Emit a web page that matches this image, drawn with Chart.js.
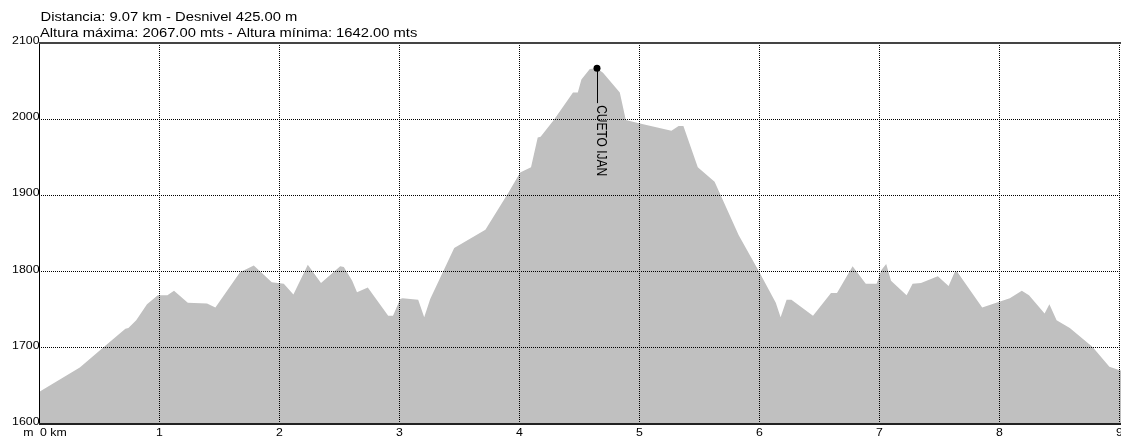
<!DOCTYPE html>
<html>
<head>
<meta charset="utf-8">
<script src="https://cdn.jsdelivr.net/npm/chart.js@4/dist/chart.umd.min.js"></script>
<style>
  html, body { margin: 0; padding: 0; background: #fff; overflow: hidden; width: 1121px; height: 437px; }
  canvas { display: block; }
</style>
</head>
<body>
<canvas id="c" width="1140" height="437"></canvas>
<script>
// ---- data ----
const distancesKm = [
  0.00, 0.34, 0.54, 0.72, 0.745, 0.81, 0.90, 0.99, 1.07, 1.125,
  1.24, 1.40, 1.47, 1.675, 1.79, 1.94, 1.99, 2.04, 2.12, 2.24,
  2.35, 2.51, 2.54, 2.61, 2.65, 2.74, 2.91, 2.95, 3.01, 3.03,
  3.16, 3.21, 3.26, 3.46, 3.72, 3.91, 4.01, 4.10, 4.156, 4.18,
  4.29, 4.45, 4.49, 4.52, 4.59, 4.65, 4.70, 4.84, 4.89, 4.99,
  5.27, 5.33, 5.37, 5.49, 5.63, 5.83, 6.00, 6.14, 6.18, 6.23,
  6.27, 6.45, 6.60, 6.65, 6.78, 6.89, 6.98, 7.02, 7.06, 7.10,
  7.23, 7.28, 7.35, 7.49, 7.58, 7.63, 7.65, 7.86, 8.09, 8.19,
  8.25, 8.38, 8.42, 8.48, 8.59, 8.78, 8.92, 9.00, 9.07
];
const elevationsM = [
  1642, 1674, 1701, 1725, 1726, 1736, 1757, 1769, 1769, 1775,
  1759, 1758, 1753, 1799, 1808, 1786, 1785, 1784, 1770, 1809,
  1785, 1807, 1806, 1788, 1773, 1779, 1742, 1742, 1764, 1765,
  1763, 1740, 1764, 1831, 1855, 1903, 1930, 1937, 1976, 1977,
  1999, 2035, 2035, 2052, 2066, 2067, 2061, 2035, 1999, 1995,
  1985, 1991, 1991, 1937, 1918, 1848, 1800, 1759, 1740, 1763,
  1763, 1742, 1772, 1772, 1807, 1784, 1784, 1802, 1810, 1788,
  1769, 1784, 1785, 1794, 1781, 1799, 1800, 1753, 1765, 1775,
  1769, 1745, 1757, 1736, 1726, 1701, 1675, 1671, 1668
];
const xTickValues = [0, 1, 2, 3, 4, 5, 6, 7, 8, 9];
const yTickValues = [1600, 1700, 1800, 1900, 2000, 2100];
const peakName = 'CUETO IJAN';
const peakKm = 4.65;
const peakElev = 2067;
const titleLines = [
  'Distancia: 9.07 km - Desnivel 425.00 m',
  'Altura máxima: 2067.00 mts - Altura mínima: 1642.00 mts'
];
const xUnit = 'km';
const yUnit = 'm';

// ---- drawing helpers ----
const FONT_FAMILY = '"Liberation Sans", Arial, sans-serif';
const SX_TITLE = 1.23;
const SX_TICK = 1.12;
function stretchedText(ctx, text, x, y, align, sx) {
  ctx.save();
  ctx.translate(x, y);
  ctx.scale(sx, 1);
  ctx.textAlign = align;
  ctx.textBaseline = 'alphabetic';
  ctx.fillText(text, 0, 0);
  ctx.restore();
}

const decor = {
  id: 'decor',
  afterDraw(chart) {
    const { ctx, chartArea: a, scales } = chart;
    const xs = scales.x, ys = scales.y;
    ctx.save();
    // frame
    ctx.fillStyle = '#000';
    ctx.fillRect(a.left, a.top, 1, a.bottom - a.top + 1);
    ctx.fillStyle = '#444';
    ctx.fillRect(a.left, a.top - 1, a.right - a.left, 2);
    ctx.fillStyle = '#222';
    ctx.fillRect(a.left, a.bottom - 1, a.right - a.left, 2);

    ctx.fillStyle = '#000';
    // titles
    ctx.font = '12px ' + FONT_FAMILY;
    stretchedText(ctx, titleLines[0], 40.5, 21, 'left', SX_TITLE);
    stretchedText(ctx, titleLines[1], 40, 36.5, 'left', SX_TITLE);

    // y tick labels
    ctx.font = '11px ' + FONT_FAMILY;
    yTickValues.forEach(v => {
      const py = ys.getPixelForValue(v);
      stretchedText(ctx, String(v), a.left + 0.5, py + 1, 'right', SX_TICK);
    });
    // x tick labels
    const base = a.bottom + 11.5;
    xTickValues.forEach(v => {
      const px = xs.getPixelForValue(v);
      if (v === 0) {
        stretchedText(ctx, '0 ' + xUnit, px + 1, base, 'left', SX_TICK);
        stretchedText(ctx, yUnit, px - 5.5, base, 'right', SX_TICK);
      } else {
        stretchedText(ctx, String(v), px + 0.5, base, 'center', SX_TICK);
      }
    });

    // peak annotation
    const ppx = xs.getPixelForValue(peakKm);
    const ppy = ys.getPixelForValue(peakElev);
    ctx.strokeStyle = '#000';
    ctx.lineWidth = 1;
    ctx.beginPath();
    ctx.moveTo(Math.floor(ppx) + 0.5, ppy);
    ctx.lineTo(Math.floor(ppx) + 0.5, ppy + 35);
    ctx.stroke();
    ctx.save();
    ctx.translate(ppx - 0.5, ppy + 37);
    ctx.rotate(Math.PI / 2);
    ctx.scale(1, 1.15);
    ctx.font = '12px ' + FONT_FAMILY;
    ctx.textAlign = 'left';
    ctx.textBaseline = 'alphabetic';
    ctx.fillText(peakName, 0, 0);
    ctx.restore();
    ctx.restore();
  }
};

const gridOpts = { color: '#000', lineWidth: 1, z: 1, drawTicks: false };

new Chart(document.getElementById('c').getContext('2d'), {
  type: 'line',
  data: {
    datasets: [
      {
        label: peakName,
        data: [{ x: peakKm, y: peakElev }],
        showLine: false,
        pointRadius: 3.5,
        pointBackgroundColor: '#000',
        pointBorderWidth: 0,
        order: 0
      },
      {
        label: 'Perfil',
        data: distancesKm.map((d, i) => ({ x: d, y: elevationsM[i] })),
        fill: 'start',
        backgroundColor: '#c0c0c0',
        borderWidth: 0,
        borderColor: 'rgba(0,0,0,0)',
        pointRadius: 0,
        tension: 0,
        order: 1
      }
    ]
  },
  options: {
    responsive: false,
    devicePixelRatio: 1,
    animation: false,
    events: [],
    layout: { padding: { left: 0, top: 43, right: 1140 - 1127.4, bottom: 0 } },
    plugins: { legend: { display: false }, tooltip: { enabled: false }, title: { display: false } },
    scales: {
      x: {
        type: 'linear',
        min: 0,
        max: 9.07,
        afterBuildTicks: s => { s.ticks = xTickValues.map(v => ({ value: v })); },
        afterFit: s => { s.height = 13; },
        ticks: { display: false },
        grid: gridOpts,
        border: { display: false, dash: [1, 1] }
      },
      y: {
        type: 'linear',
        min: 1600,
        max: 2100,
        afterBuildTicks: s => { s.ticks = yTickValues.map(v => ({ value: v })); },
        afterFit: s => { s.width = 39; },
        ticks: { display: false },
        grid: gridOpts,
        border: { display: false, dash: [1, 1] }
      }
    }
  },
  plugins: [decor]
});
</script>
</body>
</html>
